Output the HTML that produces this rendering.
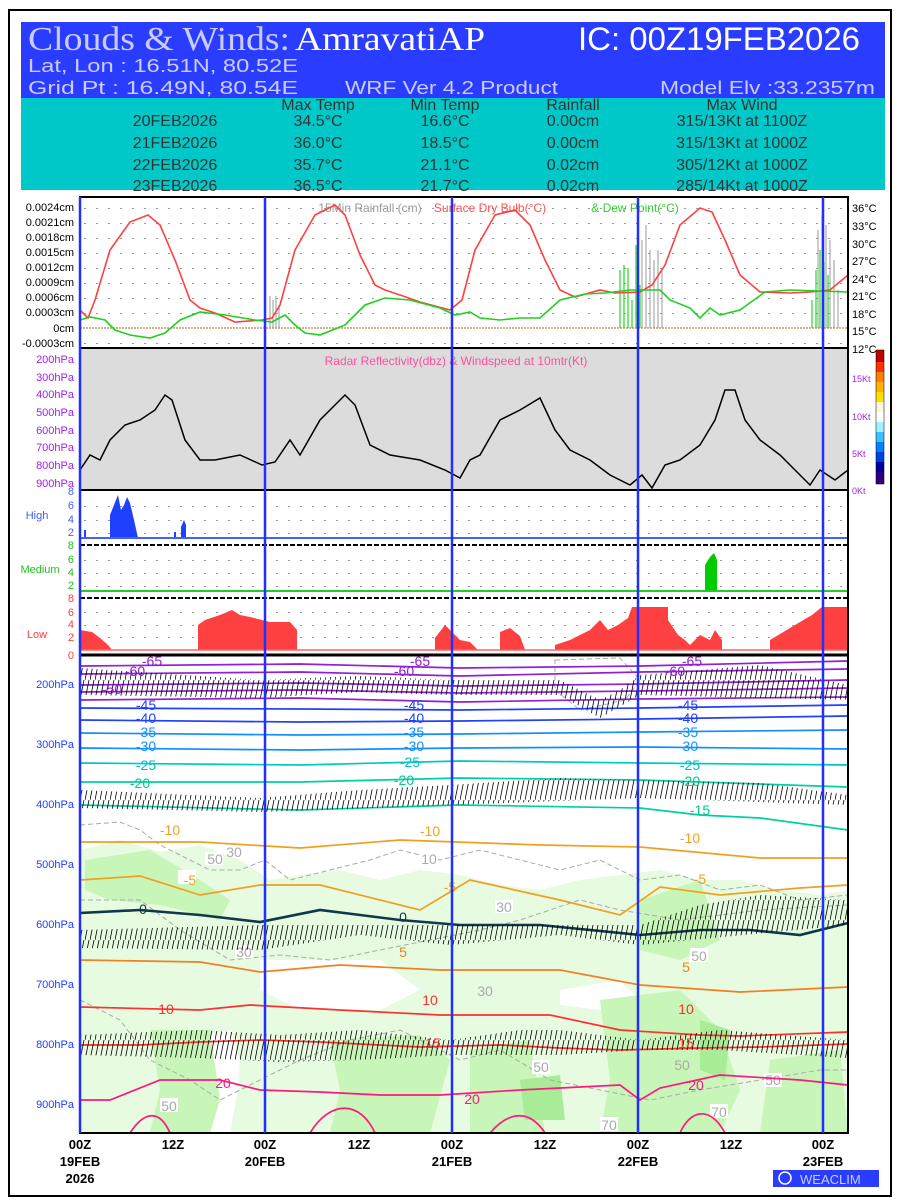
<!DOCTYPE html>
<html><head><meta charset="utf-8"><style>
html,body{margin:0;padding:0;background:#fff;width:900px;height:1200px;overflow:hidden}
svg{display:block;font-family:"Liberation Sans",sans-serif}
</style></head><body>
<svg width="900" height="1200" viewBox="0 0 900 1200" xmlns="http://www.w3.org/2000/svg">
<defs>
<pattern id="barb" width="5" height="20" patternUnits="userSpaceOnUse">
<line x1="0" y1="20" x2="4" y2="0" stroke="#000" stroke-width="0.8"/>
</pattern>
<pattern id="dots" width="12" height="1" patternUnits="userSpaceOnUse"><rect width="2" height="1" fill="#999"/></pattern>
</defs>
<rect x="9" y="10" width="882" height="1186" fill="#fff" stroke="#000" stroke-width="2"/>
<!-- header -->
<rect x="21" y="22" width="864" height="76" fill="#2a3cff"/>
<rect x="21" y="98" width="864" height="92" fill="#00c8c8"/>
<text x="28" y="50" font-family="Liberation Serif,serif" font-size="34" fill="#c8ccff" textLength="262" lengthAdjust="spacingAndGlyphs">Clouds &amp; Winds:</text>
<text x="295" y="50" font-family="Liberation Serif,serif" font-size="34" fill="#fff" textLength="190" lengthAdjust="spacingAndGlyphs">AmravatiAP</text>
<text x="578" y="50" font-size="32" fill="#fff" textLength="282" lengthAdjust="spacingAndGlyphs">IC: 00Z19FEB2026</text>
<text x="28" y="72" font-size="18" fill="#c8ccff" textLength="270" lengthAdjust="spacingAndGlyphs">Lat, Lon : 16.51N, 80.52E</text>
<text x="28" y="94" font-size="18" fill="#c8ccff" textLength="270" lengthAdjust="spacingAndGlyphs">Grid Pt  : 16.49N, 80.54E</text>
<text x="345" y="94" font-size="18" fill="#c8ccff" textLength="213" lengthAdjust="spacingAndGlyphs">WRF Ver 4.2 Product</text>
<text x="660" y="94" font-size="18" fill="#c8ccff" textLength="215" lengthAdjust="spacingAndGlyphs">Model Elv :33.2357m</text>
<g font-size="16" fill="#333" text-anchor="middle">
<text x="318" y="110">Max Temp</text><text x="445" y="110">Min Temp</text><text x="573" y="110">Rainfall</text><text x="742" y="110">Max Wind</text>
<text x="175" y="126">20FEB2026</text><text x="318" y="126">34.5°C</text><text x="445" y="126">16.6°C</text><text x="573" y="126">0.00cm</text><text x="742" y="126">315/13Kt at 1100Z</text>
<text x="175" y="148">21FEB2026</text><text x="318" y="148">36.0°C</text><text x="445" y="148">18.5°C</text><text x="573" y="148">0.00cm</text><text x="742" y="148">315/13Kt at 1000Z</text>
<text x="175" y="170">22FEB2026</text><text x="318" y="170">35.7°C</text><text x="445" y="170">21.1°C</text><text x="573" y="170">0.02cm</text><text x="742" y="170">305/12Kt at 1000Z</text>
<text x="175" y="191">23FEB2026</text><text x="318" y="191">36.5°C</text><text x="445" y="191">21.7°C</text><text x="573" y="191">0.02cm</text><text x="742" y="191">285/14Kt at 1000Z</text>
</g>
<!-- panel 1 -->
<rect x="80" y="197" width="768" height="151" fill="#fff"/>
<g fill="url(#dots)">
<rect x="84" y="208" width="762" height="1"/><rect x="84" y="223" width="762" height="1"/><rect x="84" y="238" width="762" height="1"/><rect x="84" y="253" width="762" height="1"/><rect x="84" y="268" width="762" height="1"/><rect x="84" y="283" width="762" height="1"/><rect x="84" y="298" width="762" height="1"/><rect x="84" y="313" width="762" height="1"/><rect x="84" y="343" width="762" height="1"/>
</g>
<line x1="80" y1="328" x2="848" y2="328" stroke="#c08040" stroke-width="1.2" stroke-dasharray="2 1"/>
<text x="370" y="212" font-size="12" fill="#999" text-anchor="middle">15Min Rainfall (cm)</text>
<text x="490" y="212" font-size="12" fill="#ff5050" text-anchor="middle">Surface Dry Bulb(°C)</text>
<text x="635" y="212" font-size="12" fill="#30d030" text-anchor="middle">&amp; Dew Point(°C)</text>
<g stroke="#999" stroke-width="1">
<path d="M270 328V296M273 328V300M276 328V296M279 328V305M642 328V240M646 328V225M650 328V250M654 328V260M658 328V250M662 328V270M818 328V230M822 328V215M826 328V225M830 328V240M834 328V260M838 328V290"/>
</g>
<g stroke="#00cc00" stroke-width="1">
<path d="M620 328V270M624 328V265M628 328V268M632 328V300M636 328V245M640 328V285M812 328V300M816 328V270M820 328V250M824 328V262M828 328V275"/>
</g>
<polyline fill="none" stroke="#ff4040" stroke-width="1.6" points="80,310 88,318 95,300 110,250 130,222 148,215 160,225 175,260 190,300 200,308 215,313 235,322 262,320 272,318 280,305 295,250 315,215 335,205 345,215 360,255 375,285 385,290 400,295 420,302 450,310 462,300 475,250 495,215 515,210 530,225 545,260 560,290 575,297 600,290 615,293 640,292 652,285 665,265 680,225 700,208 712,212 725,240 740,275 760,292 790,293 810,292 830,290 848,275"/>
<polyline fill="none" stroke="#20d020" stroke-width="1.6" points="80,320 90,317 105,320 115,330 130,335 150,338 165,333 180,320 200,312 225,315 255,320 272,322 285,315 295,325 305,333 320,335 345,325 365,305 385,298 410,300 440,308 455,315 470,312 480,318 500,320 520,318 540,318 560,300 585,294 605,293 630,290 660,290 670,300 690,308 700,318 710,308 720,315 740,310 765,292 790,290 848,292"/>
<g font-size="11" fill="#000" text-anchor="end">
<text x="74" y="211">0.0024cm</text><text x="74" y="226">0.0021cm</text><text x="74" y="241">0.0018cm</text><text x="74" y="256">0.0015cm</text><text x="74" y="271">0.0012cm</text><text x="74" y="286">0.0009cm</text><text x="74" y="301">0.0006cm</text><text x="74" y="316">0.0003cm</text><text x="74" y="332">0cm</text><text x="74" y="347">-0.0003cm</text>
</g>
<g font-size="11" fill="#000">
<text x="852" y="212">36°C</text><text x="852" y="230">33°C</text><text x="852" y="248">30°C</text><text x="852" y="265">27°C</text><text x="852" y="283">24°C</text><text x="852" y="300">21°C</text><text x="852" y="318">18°C</text><text x="852" y="335">15°C</text><text x="852" y="353">12°C</text>
</g>
<!-- panel 2 -->
<rect x="80" y="348" width="768" height="142" fill="#dcdcdc"/>
<text x="456" y="365" font-size="12" fill="#ff50a0" text-anchor="middle">Radar Reflectivity(dbz) &amp; Windspeed at 10mtr(Kt)</text>
<polyline fill="none" stroke="#000" stroke-width="1.5" points="80,470 90,455 100,460 110,440 125,425 140,420 155,410 165,395 172,400 185,440 200,460 215,460 240,455 262,465 275,462 290,440 300,455 320,420 345,395 355,405 370,445 390,455 420,460 445,470 460,478 470,460 480,455 500,420 520,410 540,398 555,430 570,450 590,460 610,475 630,485 642,475 652,488 665,465 680,460 700,445 715,420 725,390 735,390 745,420 760,440 780,455 800,475 810,485 820,470 835,480 848,470"/>
<g font-size="11" fill="#a020f0" text-anchor="end">
<text x="74" y="363">200hPa</text><text x="74" y="381">300hPa</text><text x="74" y="398">400hPa</text><text x="74" y="416">500hPa</text><text x="74" y="434">600hPa</text><text x="74" y="451">700hPa</text><text x="74" y="469">800hPa</text><text x="74" y="487">900hPa</text>
</g>
<g font-size="9" fill="#a020f0">
<text x="852" y="382">15Kt</text><text x="852" y="420">10Kt</text><text x="852" y="457">5Kt</text><text x="852" y="494">0Kt</text>
</g>
<g>
<rect x="876" y="350" width="8" height="12" fill="#c00000"/><rect x="876" y="362" width="8" height="10" fill="#ff3000"/><rect x="876" y="372" width="8" height="10" fill="#ff8000"/><rect x="876" y="382" width="8" height="10" fill="#ffb000"/><rect x="876" y="392" width="8" height="10" fill="#ffe000"/><rect x="876" y="402" width="8" height="10" fill="#fff8d0"/><rect x="876" y="412" width="8" height="10" fill="#fff"/><rect x="876" y="422" width="8" height="10" fill="#a0f0ff"/><rect x="876" y="432" width="8" height="10" fill="#40c0ff"/><rect x="876" y="442" width="8" height="10" fill="#0080ff"/><rect x="876" y="452" width="8" height="10" fill="#0040e0"/><rect x="876" y="462" width="8" height="10" fill="#0000a0"/><rect x="876" y="472" width="8" height="12" fill="#300080"/>
<rect x="876" y="350" width="8" height="134" fill="none" stroke="#000" stroke-width="0.5"/>
</g>
<!-- cloud panels -->
<rect x="80" y="490" width="768" height="165" fill="#fff"/>
<g fill="url(#dots)">
<rect x="84" y="506" width="762" height="1"/><rect x="84" y="520" width="762" height="1"/><rect x="84" y="533" width="762" height="1"/>
<rect x="84" y="560" width="762" height="1"/><rect x="84" y="573" width="762" height="1"/><rect x="84" y="586" width="762" height="1"/>
<rect x="84" y="612" width="762" height="1"/><rect x="84" y="625" width="762" height="1"/><rect x="84" y="637" width="762" height="1"/>
</g>
<path d="M84 538V530H86V538ZM110 538V515L114 505 118 495 121 510 124 505 127 497 130 503 134 520 138 538ZM174 538V532H176V538ZM181 538V527L184 520 186 525V538Z" fill="#2040ff"/>
<line x1="80" y1="538" x2="848" y2="538" stroke="#4060ff" stroke-width="2"/>
<line x1="80" y1="545" x2="848" y2="545" stroke="#000" stroke-width="2" stroke-dasharray="5 2"/>
<path d="M705 591V565L710 557 714 553 717 560V591Z" fill="#00cc00"/>
<line x1="80" y1="591" x2="848" y2="591" stroke="#20d020" stroke-width="2"/>
<line x1="80" y1="598" x2="848" y2="598" stroke="#000" stroke-width="2" stroke-dasharray="5 2"/>
<path fill="#ff4040" d="M80 650V630L92 632 100 638 108 645 112 650ZM198 650V625L205 620 220 615 232 610 240 615 250 617 262 620 270 622 280 622 290 622 297 630V650ZM435 650V638L445 625 452 632 460 640 470 642 478 650ZM500 650V632L510 628 520 636 525 650ZM555 650V645L570 640 590 630 600 620 608 630 618 625 628 618 632 607H668V620L678 635 685 640 690 645 700 635 710 640 715 630 722 640V650ZM770 650V640L780 634 790 628 800 622 812 615 822 607H848V650Z"/>
<line x1="80" y1="650" x2="848" y2="650" stroke="#ff6060" stroke-width="1.5"/>
<g font-size="11" text-anchor="end">
<g fill="#4060ff"><text x="74" y="495">8</text><text x="74" y="509">6</text><text x="74" y="523">4</text><text x="74" y="536">2</text></g>
<g fill="#20c020"><text x="74" y="549">8</text><text x="74" y="563">6</text><text x="74" y="576">4</text><text x="74" y="589">2</text></g>
<g fill="#ff4040"><text x="74" y="602">8</text><text x="74" y="616">6</text><text x="74" y="628">4</text><text x="74" y="641">2</text><text x="74" y="659">0</text></g>
</g>
<text x="37" y="519" font-size="11" fill="#4060ff" text-anchor="middle">High</text>
<text x="40" y="573" font-size="11" fill="#20c020" text-anchor="middle">Medium</text>
<text x="37" y="638" font-size="11" fill="#ff4040" text-anchor="middle">Low</text>
<!-- bottom panel -->
<rect x="80" y="655" width="768" height="478" fill="#fff"/>
<path fill="#e6fbe0" d="M80 850 L120 840 160 852 200 845 240 860 270 880 300 875 340 870 380 880 420 870 460 875 500 885 540 890 580 880 620 875 660 870 700 880 740 880 780 890 820 895 848 890 V1133 H80Z"/>
<path fill="#ffffff" d="M180 1040 L230 1030 240 1060 238 1090 230 1133 H195 L200 1100 190 1070Z M260 960 L380 960 420 990 380 1010 300 1010 260 990Z M560 990 L620 980 640 1000 600 1010 560 1005Z"/>
<path fill="#c8f5b8" d="M85 860 L150 850 200 880 230 900 220 920 160 905 110 900 85 890Z M150 1030 L210 1030 220 1100 210 1133 H150 L160 1090Z M330 1040 L420 1035 450 1060 430 1133 H330 L340 1090Z M470 1050 L530 1040 545 1133 H470Z M600 1000 L680 990 720 1030 740 1090 720 1133 H600 L610 1080Z M640 900 L700 880 720 940 680 960 640 950Z M770 1060 L840 1050 848 1133 H760Z"/>
<path fill="#a8ec98" d="M520 1080 L560 1075 565 1120 525 1120Z M700 1020 L730 1030 725 1080 700 1070Z"/>
<g fill="none" stroke="#aaa" stroke-width="1" stroke-dasharray="5 3">
<path d="M80 825 L120 822 140 830 160 845 190 860 210 870 240 870 265 860 290 880 330 870 370 860 400 850 440 860 480 850 520 860 560 870 600 860 640 880 680 875 720 890 760 885 800 900 848 895"/>
<path d="M80 900 L140 900 180 930 230 960 280 955 330 960 380 950 430 940 480 930 520 920 580 900 620 910 680 920 720 915 760 910 848 905"/>
<path d="M80 1000 L120 1020 150 1060 190 1080 220 1100 260 1080 300 1060 350 1040 400 1030 460 1060 500 1050 550 1080 600 1090 650 1100 700 1090 760 1080 820 1070 848 1070"/>
<path d="M555 660 L620 658 640 680 625 700 580 710 555 690Z"/>
</g>
<g fill="#fff"><rect x="205" y="852" width="18" height="13"/><rect x="178" y="870" width="18" height="14"/><rect x="420" y="852" width="18" height="13"/><rect x="495" y="900" width="18" height="13"/><rect x="235" y="945" width="18" height="13"/><rect x="160" y="1098" width="18" height="14"/><rect x="600" y="1117" width="18" height="14"/><rect x="690" y="948" width="18" height="14"/><rect x="532" y="1060" width="18" height="14"/><rect x="764" y="1073" width="18" height="14"/><rect x="710" y="1104" width="18" height="14"/></g>
<g font-size="14" fill="#aaa" text-anchor="middle">
<text x="215" y="864">50</text><text x="234" y="857">30</text><text x="429" y="864">10</text><text x="504" y="912">30</text><text x="244" y="957">30</text><text x="169" y="1111">50</text><text x="609" y="1130">70</text><text x="699" y="961">50</text><text x="541" y="1072">50</text><text x="773" y="1085">50</text><text x="719" y="1117">70</text><text x="682" y="1070">50</text><text x="485" y="996">30</text>
</g>
<!-- isotherms -->
<g fill="none" stroke-width="1.7">
<path stroke="#9020d0" d="M80 666 L300 664 460 668 640 666 848 661"/>
<path stroke="#9020d0" d="M80 674 L300 672 460 676 640 672 848 669"/>
<path stroke="#9020d0" d="M80 685 L300 683 460 686 640 684 848 680"/>
<path stroke="#9020d0" d="M80 692 L300 690 460 693 640 691 848 688"/>
<path stroke="#9020d0" d="M80 700 L300 698 460 702 640 699 848 697"/>
<path stroke="#2040ff" d="M80 708 L300 709 460 710 640 708 848 705"/>
<path stroke="#2040ff" d="M80 720 L300 722 460 721 640 719 848 716"/>
<path stroke="#1090ff" d="M80 733 L300 735 460 734 640 732 848 730"/>
<path stroke="#1090ff" d="M80 748 L300 750 460 748 640 747 848 749"/>
<path stroke="#00c8c8" d="M80 763 L300 765 460 761 640 763 848 765"/>
<path stroke="#00d0a0" d="M80 782 L300 782 380 780 460 778 640 780 848 787"/>
<path stroke="#00d0a0" d="M80 805 L300 810 460 805 640 808 700 815 760 818 848 830"/>
<path stroke="#f0a020" d="M80 842 L200 842 300 848 400 840 540 845 640 847 760 858 848 858"/>
<path stroke="#f0a020" d="M80 880 L140 876 200 895 260 885 320 885 420 910 470 880 560 900 620 915 660 887 720 895 800 888 848 885"/>
<path stroke="#103848" stroke-width="2.6" d="M80 913 L140 910 200 915 260 922 320 910 400 920 460 925 540 925 640 935 700 930 750 930 800 935 848 923"/>
<path stroke="#f08020" d="M80 960 L200 962 260 972 340 965 440 970 560 970 640 985 740 992 848 987"/>
<path stroke="#ff3030" d="M80 1007 L200 1010 250 1005 340 1010 440 1015 550 1015 620 1030 700 1035 740 1036 848 1032"/>
<path stroke="#ff3030" d="M80 1045 L140 1045 200 1042 260 1040 320 1042 420 1047 500 1045 560 1048 620 1050 700 1048 760 1047 848 1044"/>
<path stroke="#ff1880" d="M80 1100 L110 1100 160 1080 220 1080 260 1090 320 1092 380 1095 440 1095 520 1090 560 1088 620 1085 640 1100 660 1088 720 1075 800 1080 848 1085"/>
<path stroke="#ff1880" d="M130 1133 C145 1110 160 1110 170 1133 M310 1133 C330 1100 360 1100 375 1133 M490 1133 C510 1110 530 1110 545 1133 M680 1133 C690 1110 710 1105 725 1133"/>
</g>
<g fill="url(#barb)">
<path d="M80 668 L260 680 360 676 450 680 560 680 600 700 620 690 640 675 760 665 848 685 V700 L640 695 600 718 560 695 450 695 360 692 260 698 80 695Z"/>
<path d="M80 790 L260 798 360 790 450 785 560 778 640 780 760 783 848 795 V805 L640 798 450 805 260 812 80 808Z"/>
<path d="M80 930 L260 925 360 925 450 925 560 925 640 925 700 905 760 895 848 900 V925 L640 945 560 935 450 945 360 935 260 950 80 948Z"/>
<path d="M80 1035 L200 1030 280 1035 360 1030 450 1040 520 1030 560 1030 640 1040 720 1030 848 1040 V1058 L720 1050 640 1050 560 1055 450 1055 360 1060 280 1062 200 1058 80 1055Z"/>
</g>
<g font-size="14" text-anchor="middle">
<g fill="#9020d0"><text x="152" y="666">-65</text><text x="135" y="676">-60</text><text x="112" y="694">-50</text><text x="420" y="666">-65</text><text x="404" y="676">-60</text><text x="692" y="666">-65</text><text x="675" y="676">-60</text></g>
<g fill="#2040ff"><text x="146" y="710">-45</text><text x="146" y="723">-40</text><text x="414" y="710">-45</text><text x="414" y="723">-40</text><text x="688" y="710">-45</text><text x="688" y="723">-40</text></g>
<g fill="#1090ff"><text x="146" y="737">-35</text><text x="146" y="751">-30</text><text x="414" y="737">-35</text><text x="414" y="751">-30</text><text x="688" y="737">-35</text><text x="688" y="751">-30</text></g>
<g fill="#00c0c0"><text x="146" y="770">-25</text><text x="410" y="767">-25</text><text x="690" y="770">-25</text></g>
<g fill="#00c890"><text x="140" y="788">-20</text><text x="404" y="785">-20</text><text x="690" y="786">-20</text><text x="700" y="815">-15</text></g>
<g fill="#f0a020"><text x="170" y="835">-10</text><text x="430" y="836">-10</text><text x="690" y="843">-10</text><text x="190" y="885">-5</text><text x="450" y="892">-5</text><text x="700" y="884">-5</text></g>
<g fill="#103848"><text x="143" y="914">0</text><text x="403" y="922">0</text></g>
<g fill="#f08020"><text x="403" y="957">5</text><text x="686" y="972">5</text></g>
<g fill="#ff3030"><text x="166" y="1014">10</text><text x="430" y="1005">10</text><text x="686" y="1014">10</text><text x="433" y="1048">15</text><text x="686" y="1048">15</text></g>
<g fill="#ff1880"><text x="223" y="1088">20</text><text x="472" y="1104">20</text><text x="696" y="1090">20</text></g>
</g>
<g font-size="11" fill="#2040ff" text-anchor="end">
<text x="74" y="688">200hPa</text><text x="74" y="748">300hPa</text><text x="74" y="808">400hPa</text><text x="74" y="868">500hPa</text><text x="74" y="928">600hPa</text><text x="74" y="988">700hPa</text><text x="74" y="1048">800hPa</text><text x="74" y="1108">900hPa</text>
</g>
<!-- frames -->
<g fill="none" stroke="#000" stroke-width="2">
<rect x="80" y="197" width="768" height="936"/>
<line x1="80" y1="348" x2="848" y2="348"/><line x1="80" y1="490" x2="848" y2="490"/><line x1="80" y1="655" x2="848" y2="655" stroke-width="3"/>
</g>
<g stroke="#2030ff" stroke-width="2.5">
<line x1="80" y1="197" x2="80" y2="1133"/><line x1="265" y1="197" x2="265" y2="1133"/><line x1="452" y1="197" x2="452" y2="1133"/><line x1="638" y1="197" x2="638" y2="1133"/><line x1="823" y1="197" x2="823" y2="1133"/>
</g>
<g font-size="13" font-weight="bold" text-anchor="middle" fill="#000">
<text x="80" y="1149">00Z</text><text x="80" y="1166">19FEB</text><text x="80" y="1183">2026</text>
<text x="173" y="1149">12Z</text>
<text x="265" y="1149">00Z</text><text x="265" y="1166">20FEB</text>
<text x="359" y="1149">12Z</text>
<text x="452" y="1149">00Z</text><text x="452" y="1166">21FEB</text>
<text x="545" y="1149">12Z</text>
<text x="638" y="1149">00Z</text><text x="638" y="1166">22FEB</text>
<text x="731" y="1149">12Z</text>
<text x="823" y="1149">00Z</text><text x="823" y="1166">23FEB</text>
</g>
<rect x="773" y="1170" width="106" height="17" fill="#2a3cff"/>
<circle cx="785" cy="1178" r="6" fill="none" stroke="#fff" stroke-width="1.5"/>
<text x="800" y="1184" font-size="13" fill="#c8ccff">WEACLIM</text>
</svg>
</body></html>
